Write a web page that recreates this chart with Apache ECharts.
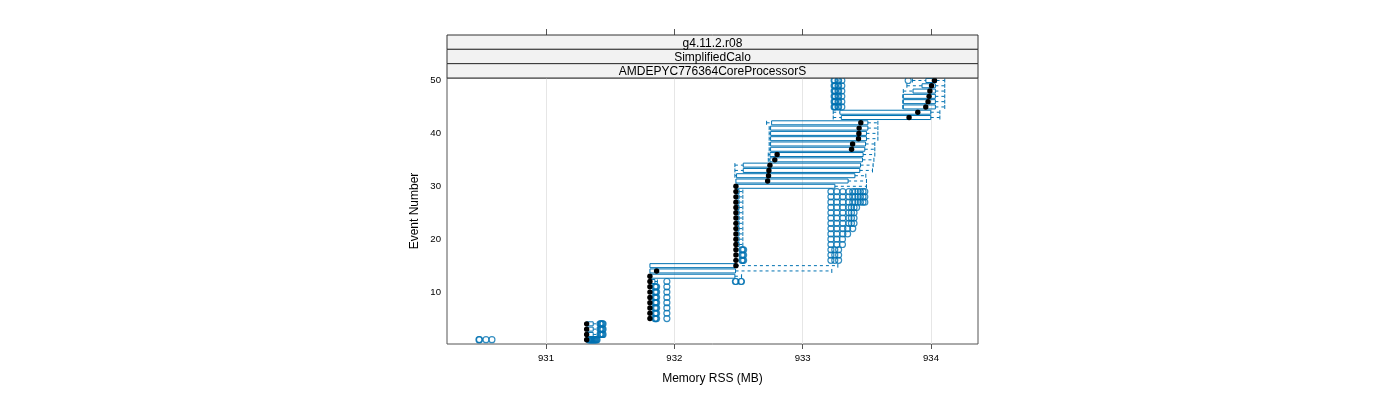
<!DOCTYPE html>
<html><head><meta charset="utf-8">
<script src="https://cdn.jsdelivr.net/npm/echarts@6/dist/echarts.min.js"></script>
<style>html,body{margin:0;padding:0;background:#fff}#c{width:1400px;height:400px}</style>
</head><body><div id="c"></div><script>
// ---- data ----
const events = [];
for (let i = 1; i <= 50; i++) events.push(i);
const whiskerLow = [931.317,931.317,931.317,931.317,931.81,931.81,931.81,931.81,931.81,931.81,
  931.81,931.81,931.81,931.81,931.81,932.48,932.48,932.48,932.48,932.48,
  932.48,932.48,932.48,932.48,932.48,932.48,932.48,932.48,932.48,932.48,
  932.48,932.472,932.472,932.472,932.732,932.732,932.739,932.739,932.739,932.739,
  932.739,932.719,933.238,933.238,933.78,933.78,933.78,933.784,933.812,933.855];
const q1 = [931.317,931.317,931.317,931.317,931.81,931.81,931.81,931.81,931.81,931.81,
  931.81,931.81,931.81,931.81,931.81,932.48,932.48,932.48,932.48,932.48,
  932.48,932.48,932.48,932.48,932.48,932.48,932.48,932.48,932.48,932.48,
  932.48,932.485,932.537,932.537,932.745,932.745,932.75,932.75,932.75,932.75,
  932.75,932.758,933.301,933.29,933.784,933.784,933.784,933.86,933.93,933.96];
const median = [931.317,931.317,931.317,931.317,931.81,931.81,931.81,931.81,931.81,931.81,
  931.81,931.81,931.81,931.862,932.48,932.48,932.48,932.48,932.48,932.48,
  932.48,932.48,932.48,932.48,932.48,932.48,932.48,932.48,932.48,932.48,
  932.727,932.734,932.737,932.745,932.783,932.801,933.381,933.389,933.435,933.438,
  933.44,933.453,933.829,933.897,933.959,933.977,933.985,933.991,934.004,934.027];
const q3 = [931.317,931.368,931.368,931.368,931.81,931.81,931.81,931.81,931.81,931.81,
  931.81,931.849,932.472,932.477,932.48,932.48,932.48,932.48,932.505,932.505,
  932.505,932.505,932.505,932.505,932.505,932.505,932.505,932.505,932.505,933.251,
  933.354,933.407,933.445,933.451,933.466,933.471,933.484,933.49,933.497,933.497,
  933.508,933.508,933.998,933.998,934.034,934.034,934.034,934.034,934.034,934.043];
const whiskerHigh = [931.317,931.407,931.407,931.407,931.81,931.81,931.81,931.81,931.81,931.81,
  931.81,931.868,932.524,933.227,933.274,932.48,932.48,932.48,932.534,932.534,
  932.534,932.534,932.534,932.534,932.534,932.534,932.534,932.534,932.534,933.497,
  933.497,933.492,933.544,933.549,933.555,933.562,933.562,933.562,933.586,933.586,
  933.586,933.586,934.069,934.069,934.107,934.107,934.107,934.107,934.107,934.107];
// outliers: [event, values]
const outliers = [
  [1, [930.478,930.482,930.533,930.579,931.333,931.338,931.343,931.348,931.353,931.358,931.363,931.368,931.373,931.378,931.383,931.388,931.393,931.398]],
  [2, [931.421,931.427,931.433,931.44,931.445]], [3, [931.421,931.427,931.433,931.44,931.445]], [4, [931.421,931.427,931.433,931.44,931.445]],
  [5, [931.849,931.855,931.862,931.942]], [6, [931.849,931.855,931.862,931.942]], [7, [931.849,931.855,931.862,931.942]],
  [8, [931.849,931.855,931.862,931.942]], [9, [931.849,931.855,931.862,931.942]], [10, [931.849,931.855,931.862,931.942]],
  [11, [931.849,931.855,931.862,931.942]],
  [12, [931.942,932.476,932.48,932.519,932.523]],
  [16, [932.526,932.532,932.54,933.22,933.25,933.28]], [17, [932.526,932.532,932.54,933.22,933.25,933.28]],
  [18, [932.526,932.532,932.54,933.22,933.25,933.28]],
  [19, [933.22,933.266,933.31]], [20, [933.22,933.266,933.31]],
  [21, [933.22,933.266,933.313,933.35]],
  [22, [933.22,933.266,933.313,933.35,933.39]],
  [23, [933.22,933.266,933.313,933.36,933.38,933.40]],
  [24, [933.22,933.266,933.313,933.36,933.38,933.40]],
  [25, [933.22,933.266,933.313,933.36,933.38,933.40]],
  [26, [933.22,933.266,933.313,933.36,933.38,933.40,933.42]],
  [27, [933.22,933.266,933.313,933.36,933.39,933.41,933.43,933.45,933.47,933.484]],
  [28, [933.22,933.266,933.313,933.36,933.39,933.41,933.43,933.45,933.47,933.484]],
  [29, [933.22,933.266,933.313,933.36,933.39,933.41,933.43,933.45,933.47,933.484]],
  [45, [933.245,933.25,933.255,933.275,933.28,933.305]], [46, [933.245,933.25,933.255,933.275,933.28,933.305]],
  [47, [933.245,933.25,933.255,933.275,933.28,933.305]], [48, [933.245,933.25,933.255,933.275,933.28,933.305]],
  [49, [933.245,933.25,933.255,933.275,933.28,933.305]],
  [50, [933.245,933.25,933.275,933.28,933.305,933.822]]
];
const xTicks = [931, 932, 933, 934];
const yTicks = [10, 20, 30, 40, 50];
const stripLabels = ['g4.11.2.r08', 'SimplifiedCalo', 'AMDEPYC776364CoreProcessorS'];

// ---- chart ----
const BLUE = '#0072B2';
const FONT = 'Liberation Sans, Arial, sans-serif';
const boxData = events.map((e, i) => [e, whiskerLow[i], q1[i], median[i], q3[i], whiskerHigh[i]]);
const outlierData = [];
outliers.forEach(([e, vals]) => vals.forEach(v => outlierData.push([v, e])));

const chart = echarts.init(document.getElementById('c'), null, {renderer: 'canvas'});
const stripTop = 35, stripH = 43 / 3;
const graphic = [];
stripLabels.forEach((t, i) => {
  graphic.push({type: 'rect', z: 10, shape: {x: 447, y: stripTop + i * stripH, width: 531, height: stripH},
    style: {fill: '#f2f2f2', stroke: '#333', lineWidth: 1}});
  graphic.push({type: 'text', z: 11, x: 712.5, y: stripTop + i * stripH + stripH / 2 + 1.2,
    style: {text: t, fill: '#000', font: '12px ' + FONT, textAlign: 'center', textVerticalAlign: 'middle'}});
});

chart.setOption({
  animation: false,
  textStyle: {fontFamily: FONT},
  grid: {left: 447, top: 78, width: 531, height: 266, show: true, borderColor: '#555', borderWidth: 1, containLabel: false},
  xAxis: [{
    type: 'value', min: 930.229, max: 934.366, position: 'bottom',
    name: 'Memory RSS (MB)', nameLocation: 'middle', nameGap: 29,
    nameTextStyle: {fontSize: 12, color: '#000', fontFamily: FONT},
    axisLine: {show: false},
    axisTick: {show: true, length: 5, customValues: xTicks, lineStyle: {color: '#555'}},
    axisLabel: {customValues: xTicks, fontSize: 9.6, color: '#000', margin: 9, fontFamily: FONT},
    splitLine: {show: true, lineStyle: {color: '#e6e6e6', width: 1}}
  }, {
    type: 'value', min: 930.229, max: 934.366, position: 'top', offset: 43,
    axisLine: {show: false},
    axisTick: {show: true, length: 6, customValues: xTicks, lineStyle: {color: '#555'}},
    axisLabel: {show: false},
    splitLine: {show: false}
  }],
  yAxis: {
    type: 'value', min: 0.19, max: 50.47,
    name: 'Event Number', nameLocation: 'middle', nameGap: 26, nameRotate: 90,
    nameTextStyle: {fontSize: 12, color: '#000', fontFamily: FONT},
    axisLine: {show: false},
    axisTick: {show: false, customValues: yTicks},
    axisLabel: {customValues: yTicks, fontSize: 9.6, color: '#000', margin: 6, fontFamily: FONT},
    splitLine: {show: false}
  },
  graphic: graphic,
  series: [{
    type: 'custom',
    xAxisIndex: 0,
    data: boxData,
    encode: {x: [1, 2, 3, 4, 5], y: 0},
    renderItem: function (params, api) {
      const ev = api.value(0), lo = api.value(1), a = api.value(2), m = api.value(3), b = api.value(4), hi = api.value(5);
      const pLo = api.coord([lo, ev]), pA = api.coord([a, ev]), pM = api.coord([m, ev]), pB = api.coord([b, ev]), pHi = api.coord([hi, ev]);
      const y = pM[1], h = 2;
      const ch = [];
      const solid = {stroke: BLUE, lineWidth: 1, fill: null};
      const dashed = {stroke: BLUE, lineWidth: 1, lineDash: [3, 3]};
      if (b > a) ch.push({type: 'rect', shape: {x: pA[0], y: y - h, width: pB[0] - pA[0], height: 2 * h}, style: {stroke: BLUE, lineWidth: 1, fill: 'rgba(0,0,0,0)'}});
      if (a > lo) {
        ch.push({type: 'line', shape: {x1: pLo[0], y1: y, x2: pA[0], y2: y}, style: dashed});
        ch.push({type: 'line', shape: {x1: pLo[0], y1: y - h, x2: pLo[0], y2: y + h}, style: solid});
      }
      if (hi > b) {
        ch.push({type: 'line', shape: {x1: pB[0], y1: y, x2: pHi[0], y2: y}, style: dashed});
        ch.push({type: 'line', shape: {x1: pHi[0], y1: y - h, x2: pHi[0], y2: y + h}, style: solid});
      }
      ch.push({type: 'circle', shape: {cx: pM[0], cy: y, r: 2.7}, style: {fill: '#000'}});
      return {type: 'group', children: ch};
    },
    z: 3
  }, {
    type: 'scatter',
    xAxisIndex: 0,
    data: outlierData,
    symbol: 'circle',
    symbolSize: 6,
    itemStyle: {color: 'rgba(0,0,0,0)', borderColor: BLUE, borderWidth: 1.2},
    z: 2
  }]
});
</script></body></html>
